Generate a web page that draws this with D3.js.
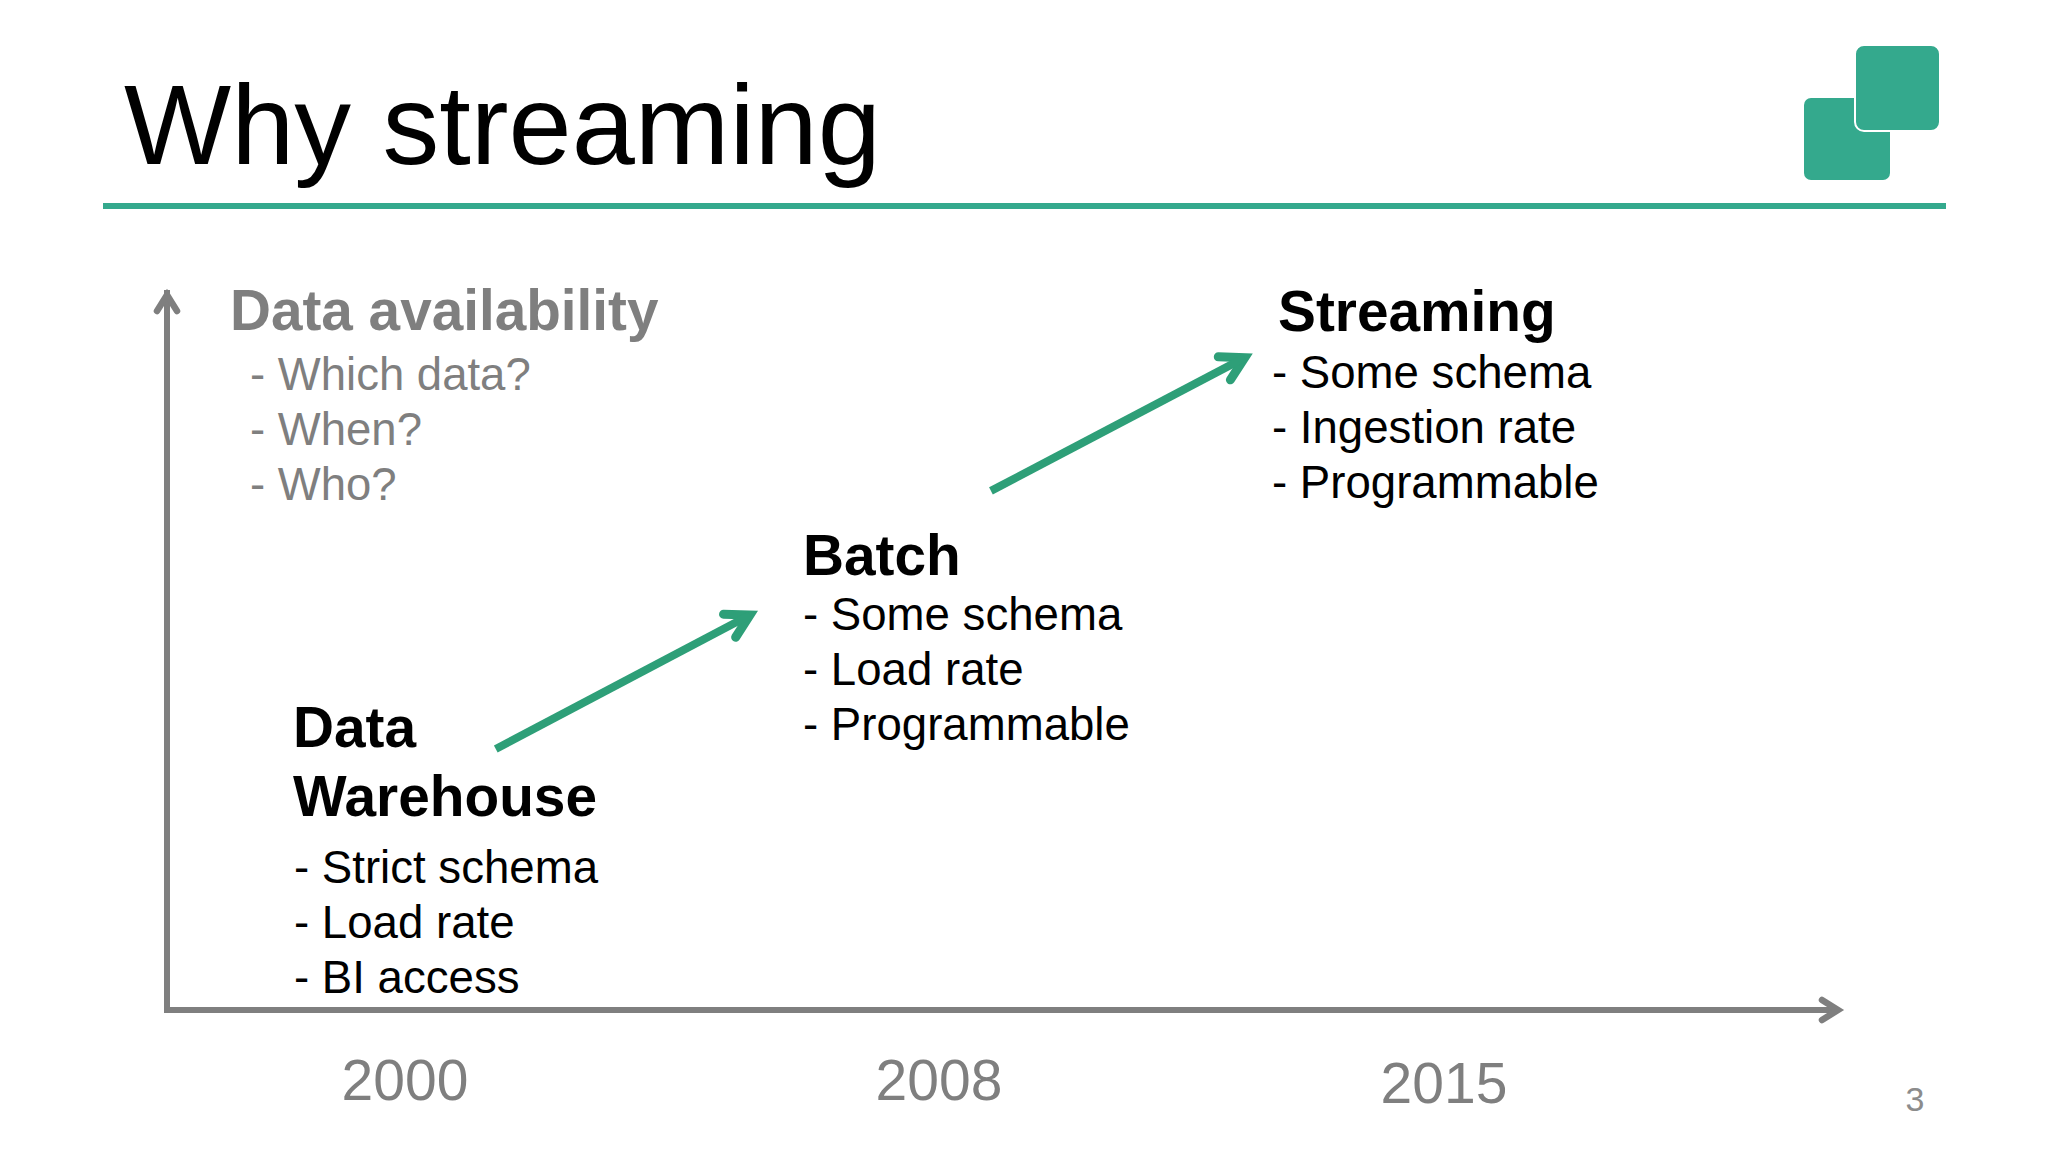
<!DOCTYPE html>
<html>
<head>
<meta charset="utf-8">
<script src="https://cdn.jsdelivr.net/npm/d3@7"></script>
<style>
  html, body { margin: 0; padding: 0; background: #fff; }
  svg { display: block; }
  text { font-family: "Liberation Sans", Arial, sans-serif; }
</style>
</head>
<body>
<svg id="slide" width="2048" height="1152"></svg>
<script>
const titleText = 'Why streaming'
const pageNumber = '3'
const years = [2000, 2008, 2015]
const stageNames = [['Data', 'Warehouse'], ['Batch'], ['Streaming']]
const stageBullets = [
  ['- Strict schema', '- Load rate', '- BI access'],
  ['- Some schema', '- Load rate', '- Programmable'],
  ['- Some schema', '- Ingestion rate', '- Programmable']
]
const yAxisTitle = 'Data availability'
const yAxisQuestions = ['- Which data?', '- When?', '- Who?']

// Progress arrows, in years and availability (0-100)
const arrowFromYear = [2001.36, 2008.72]
const arrowToYear = [2005.3, 2012.36]
const arrowFromLevel = [36.25, 72.1]
const arrowToLevel = [55.5, 91.25]

const green = '#34a98d'
const arrowGreen = '#2e9f78'
const gray = '#7f7f7f'

const svg = d3.select('#slide')

// Time axis is not evenly spaced on the slide, so it gets a piecewise scale
const x = d3.scaleLinear().domain(years).range([405, 939, 1444])
const y = d3.scaleLinear().domain([0, 100]).range([1010, 290])

// Title and rule
svg.append('text')
  .text(titleText)
  .attr('x', 124).attr('y', 164)
  .attr('font-size', 113.5)
  .attr('fill', '#000')

svg.append('rect')
  .attr('x', 103).attr('y', 203)
  .attr('width', 1843).attr('height', 6)
  .attr('fill', green)

// Logo
svg.append('rect')
  .attr('x', 1804).attr('y', 98)
  .attr('width', 86).attr('height', 82).attr('rx', 7)
  .attr('fill', green)
svg.append('rect')
  .attr('x', 1855).attr('y', 45)
  .attr('width', 85).attr('height', 86).attr('rx', 9)
  .attr('fill', green)
  .attr('stroke', '#fff').attr('stroke-width', 2)

// Arrow head with its sharp tip at (tip), pointing along (dx, dy)
const line = d3.line()
function arrowHead(tip, dx, dy, color, width, inset, size, wing) {
  const len = Math.hypot(dx, dy)
  const ux = dx / len, uy = dy / len
  const vertex = [tip[0] - ux * inset, tip[1] - uy * inset]
  const back = [vertex[0] - ux * size, vertex[1] - uy * size]
  svg.append('path')
    .attr('d', line([
      [back[0] - uy * wing, back[1] + ux * wing],
      vertex,
      [back[0] + uy * wing, back[1] - ux * wing]
    ]))
    .attr('fill', 'none')
    .attr('stroke', color)
    .attr('stroke-width', width)
    .attr('stroke-linecap', 'round')
    .attr('stroke-linejoin', 'miter')
  return vertex
}

// Axes
const axisLeft = 167
const axisRight = 1845
const [axisBottom, axisTop] = y.range()
svg.append('path')
  .attr('d', line([[axisLeft, axisTop], [axisLeft, axisBottom], [axisRight - 6, axisBottom]]))
  .attr('fill', 'none')
  .attr('stroke', gray)
  .attr('stroke-width', 6)
  .attr('stroke-linejoin', 'miter')
arrowHead([axisLeft, axisTop - 2], 0, -1, gray, 6.5, 7, 16, 10)
arrowHead([axisRight, axisBottom], 1, 0, gray, 6.5, 7, 16, 10)

// Y axis caption
svg.append('text')
  .text(yAxisTitle)
  .attr('x', 230).attr('y', 330)
  .attr('font-size', 56.7).attr('font-weight', 'bold')
  .attr('fill', gray)

svg.selectAll('text.question')
  .data(yAxisQuestions)
  .join('text')
  .attr('class', 'question')
  .attr('x', 250)
  .attr('y', (d, i) => 390 + i * 55)
  .attr('font-size', 45.5)
  .attr('fill', gray)
  .text(d => d)

// Year labels
svg.selectAll('text.year')
  .data(years)
  .join('text')
  .attr('class', 'year')
  .attr('x', d => x(d))
  .attr('y', (d, i) => i === 2 ? 1103 : 1100)
  .attr('text-anchor', 'middle')
  .attr('font-size', 57)
  .attr('fill', gray)
  .text(d => d)

svg.append('text')
  .text(pageNumber)
  .attr('x', 1915).attr('y', 1111)
  .attr('text-anchor', 'middle')
  .attr('font-size', 34)
  .attr('fill', '#8c8c8c')

// Stage text blocks
const stageNameX = [293, 803, 1278]
const stageBulletX = [294, 803, 1272]
const stageNameY = [747, 575, 331]
const stageBulletY = [883, 630, 388]

stageNames.forEach((names, s) => {
  names.forEach((name, i) => {
    svg.append('text')
      .text(name)
      .attr('x', stageNameX[s])
      .attr('y', stageNameY[s] + i * 69)
      .attr('font-size', 56.8).attr('font-weight', 'bold')
      .attr('fill', '#000')
  })
  stageBullets[s].forEach((bullet, i) => {
    svg.append('text')
      .text(bullet)
      .attr('x', stageBulletX[s])
      .attr('y', stageBulletY[s] + i * 55)
      .attr('font-size', 45.6)
      .attr('fill', '#000')
  })
})

// Progress arrows between stages
arrowFromYear.forEach((fromYear, i) => {
  const start = [x(fromYear), y(arrowFromLevel[i])]
  const tip = [x(arrowToYear[i]), y(arrowToLevel[i])]
  const vertex = arrowHead(tip, tip[0] - start[0], tip[1] - start[1], arrowGreen, 9, 10, 23, 13)
  svg.append('path')
    .attr('d', line([start, vertex]))
    .attr('stroke', arrowGreen)
    .attr('stroke-width', 8)
})
</script>
</body>
</html>
